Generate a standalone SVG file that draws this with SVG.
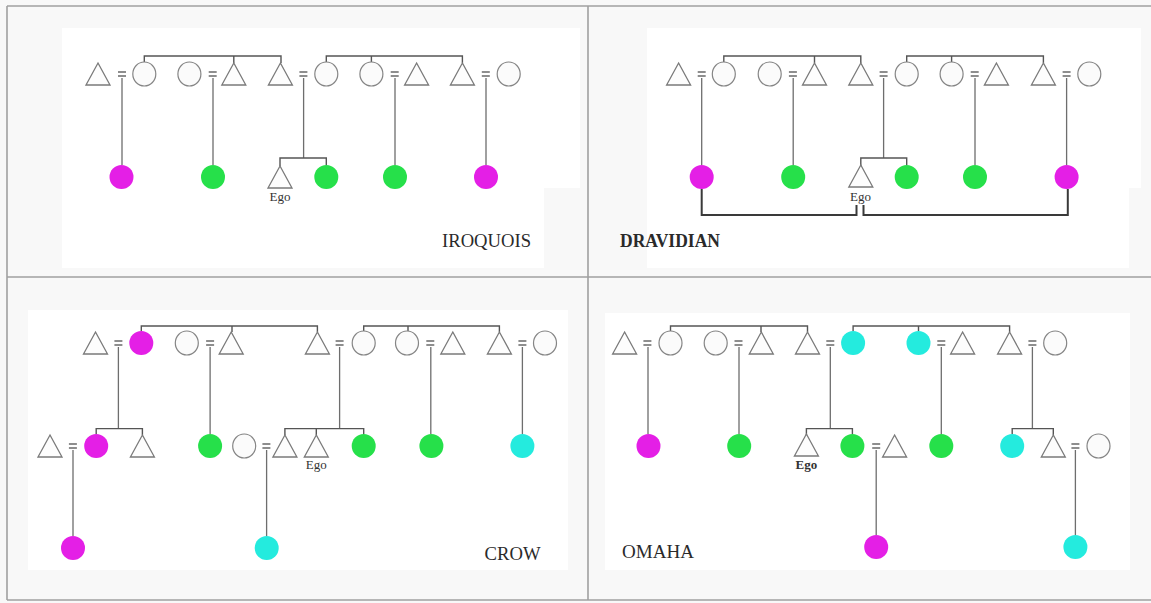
<svg xmlns="http://www.w3.org/2000/svg" xmlns:xlink="http://www.w3.org/1999/xlink" width="1151" height="603" viewBox="0 0 1151 603">
<style>
.tri{fill:#fdfdfd;stroke:#7a7a7a;stroke-width:1.3;stroke-linejoin:miter}
.open{fill:#fbfbfb;stroke:#858585;stroke-width:1.2}
.mag{fill:#e41fe6}
.grn{fill:#26e04a}
.cyn{fill:#24ebde}
.eq{stroke:#6a6a6a;stroke-width:1.3;fill:none}
.ln{stroke:#6e6e6e;stroke-width:1.3;fill:none}
.br{stroke:#555;stroke-width:1.4;fill:none}
.drv{stroke:#3a3a3a;stroke-width:2;fill:none}
.frame{stroke:#a0a0a0;stroke-width:1.6;fill:none}
.ego{font-family:"Liberation Serif","Times New Roman",serif;font-size:13px;fill:#333;text-anchor:middle}
.lbl{font-family:"Liberation Serif","Times New Roman",serif;font-size:18.5px;fill:#2a2a2a}
</style>
<defs>
<path id="tri" class="tri" d="M0,-11 L12,11 L-12,11 Z"/>
<ellipse id="oc" class="open" rx="11.5" ry="12"/>
<ellipse id="mc" class="mag" rx="12" ry="12"/>
<ellipse id="gc" class="grn" rx="12" ry="12"/>
<ellipse id="cc" class="cyn" rx="12" ry="12"/>
<path id="eq" class="eq" d="M-4,-2 H4 M-4,2 H4"/>
</defs>

<g id="background">
<rect x="0" y="0" width="1151" height="603" fill="#f8f8f8"/>
<rect x="62" y="28" width="518" height="160" fill="#fff"/>
<rect x="62" y="188" width="482" height="80" fill="#fff"/>
<rect x="647" y="28" width="494" height="160" fill="#fff"/>
<rect x="647" y="188" width="482" height="80" fill="#fff"/>
<rect x="28" y="310" width="540" height="260" fill="#fff"/>
<rect x="605" y="313" width="525" height="257" fill="#fff"/>
<path class="frame" d="M7,6 H1151 M7,6 V600 M7,277 H1151 M588,6 V600 M7,600 H1151"/>
</g>

<g id="connectors">
<g id="iroquois-connectors">
<use href="#eq" x="122" y="74"/><use href="#eq" x="212.7" y="74"/><use href="#eq" x="303.4" y="74"/><use href="#eq" x="394.7" y="74"/><use href="#eq" x="485.8" y="74"/>
<path class="br" d="M144.3,62 V56 H281 V63 M233.8,56 V63 M326.3,62 V56 H462.4 V63 M371.4,56 V62"/>
<path class="ln" d="M122,78 V165 M213,78 V165 M395,78 V165 M486,78 V165 M303.6,78 V158"/>
<path class="br" d="M280,166 V158 H326.3 V165"/>
</g>
<g id="dravidian-connectors">
<use href="#eq" x="701.7" y="74"/><use href="#eq" x="792.9" y="74"/><use href="#eq" x="883.6" y="74"/><use href="#eq" x="974.7" y="74"/><use href="#eq" x="1066.6" y="74"/>
<path class="br" d="M723.8,62 V56 H860.8 V63 M814.5,56 V63 M906.7,62 V56 H1043.4 V63 M951.6,56 V62"/>
<path class="ln" d="M701.7,78 V165 M793.2,78 V165 M975,78 V165 M1066.6,78 V165 M883.6,78 V158"/>
<path class="br" d="M860.8,166 V158 H906.7 V165"/>
<path class="drv" d="M701.7,189 V215 H856.5 V205 M863.5,205 V215 H1067.8 V189"/>
</g>
<g id="crow-connectors">
<use href="#eq" x="118.4" y="343"/><use href="#eq" x="210.1" y="343"/><use href="#eq" x="339.6" y="343"/><use href="#eq" x="430.3" y="343"/><use href="#eq" x="522.4" y="343"/>
<use href="#eq" x="72.9" y="446"/><use href="#eq" x="266.4" y="446"/>
<path class="br" d="M141.3,331 V326 H317.4 V332 M232,326 V332 M363.7,331 V326 H499.4 V332 M408,326 V331"/>
<path class="ln" d="M118.4,347 V428.6 M210.1,347 V434 M339.6,347 V428.6 M430.8,347 V434 M522.4,347 V434"/>
<path class="br" d="M96.2,434 V428.6 H142.4 V435 M284.9,435 V428.6 H363.7 V434 M316.3,428.6 V435"/>
<path class="ln" d="M73,450 V536 M266.6,450 V536"/>
</g>
<g id="omaha-connectors">
<use href="#eq" x="647.4" y="343"/><use href="#eq" x="738.5" y="343"/><use href="#eq" x="830.3" y="343"/><use href="#eq" x="941.3" y="343"/><use href="#eq" x="1032.4" y="343"/>
<use href="#eq" x="876.2" y="446"/><use href="#eq" x="1075.4" y="446"/>
<path class="br" d="M670.5,331 V326 H807.5 V332 M761,326 V332 M853.1,331 V326 H1009.6 V332 M918.5,326 V331"/>
<path class="ln" d="M648,347 V434 M739,347 V434 M830.3,347 V428.6 M941.3,347 V434 M1032.4,347 V428.6"/>
<path class="br" d="M806.4,435 V428.6 H852.4 V434 M1012.2,434 V428.6 H1053.3 V435"/>
<path class="ln" d="M876.2,450 V535 M1075.4,450 V535"/>
</g>
</g>

<g id="iroquois">
<g id="i-gp1-h"><use href="#tri" x="98" y="74"/></g>
<g id="i-gp1-w"><use href="#oc" x="144.3" y="74"/></g>
<g id="i-gp2-w"><use href="#oc" x="189.4" y="74"/></g>
<g id="i-gp2-h"><use href="#tri" x="233.8" y="74"/></g>
<g id="i-father"><use href="#tri" x="280.4" y="74"/></g>
<g id="i-mother"><use href="#oc" x="326.3" y="74"/></g>
<g id="i-gp4-w"><use href="#oc" x="371.4" y="74"/></g>
<g id="i-gp4-h"><use href="#tri" x="416.6" y="74"/></g>
<g id="i-gp5-h"><use href="#tri" x="462.4" y="74"/></g>
<g id="i-gp5-w"><use href="#oc" x="508.7" y="74"/></g>
<g id="i-c1"><use href="#mc" x="121.5" y="177"/></g>
<g id="i-c2"><use href="#gc" x="213" y="177"/></g>
<g id="i-ego"><use href="#tri" x="280" y="177"/><text class="ego" x="280" y="201">Ego</text></g>
<g id="i-c3"><use href="#gc" x="326.3" y="177"/></g>
<g id="i-c4"><use href="#gc" x="395" y="177"/></g>
<g id="i-c5"><use href="#mc" x="486" y="177"/></g>
<text class="lbl" x="442" y="247" textLength="89" lengthAdjust="spacingAndGlyphs">IROQUOIS</text>
</g>

<g id="dravidian">
<g id="d-gp1-h"><use href="#tri" x="678.6" y="74"/></g>
<g id="d-gp1-w"><use href="#oc" x="723.8" y="74"/></g>
<g id="d-gp2-w"><use href="#oc" x="769.7" y="74"/></g>
<g id="d-gp2-h"><use href="#tri" x="814.5" y="74"/></g>
<g id="d-father"><use href="#tri" x="860.8" y="74"/></g>
<g id="d-mother"><use href="#oc" x="906.7" y="74"/></g>
<g id="d-gp4-w"><use href="#oc" x="951.6" y="74"/></g>
<g id="d-gp4-h"><use href="#tri" x="996.4" y="74"/></g>
<g id="d-gp5-h"><use href="#tri" x="1043.4" y="74"/></g>
<g id="d-gp5-w"><use href="#oc" x="1089.3" y="74"/></g>
<g id="d-c1"><use href="#mc" x="701.7" y="177"/></g>
<g id="d-c2"><use href="#gc" x="793.2" y="177"/></g>
<g id="d-ego"><use href="#tri" x="860.8" y="176"/><text class="ego" x="860.5" y="201">Ego</text></g>
<g id="d-c3"><use href="#gc" x="906.7" y="177"/></g>
<g id="d-c4"><use href="#gc" x="975" y="177"/></g>
<g id="d-c5"><use href="#mc" x="1066.6" y="177"/></g>
<text class="lbl" x="620" y="247" font-weight="bold" textLength="100" lengthAdjust="spacingAndGlyphs">DRAVIDIAN</text>
</g>

<g id="crow">
<g id="c-gp1-h"><use href="#tri" x="95.5" y="343"/></g>
<g id="c-gp1-w"><use href="#mc" x="141.3" y="343"/></g>
<g id="c-gp2-w"><use href="#oc" x="186.8" y="343"/></g>
<g id="c-gp2-h"><use href="#tri" x="231.2" y="343"/></g>
<g id="c-father"><use href="#tri" x="317.4" y="343"/></g>
<g id="c-mother"><use href="#oc" x="363.7" y="343"/></g>
<g id="c-gp4-w"><use href="#oc" x="407" y="343"/></g>
<g id="c-gp4-h"><use href="#tri" x="452.8" y="343"/></g>
<g id="c-gp5-h"><use href="#tri" x="499.4" y="343"/></g>
<g id="c-gp5-w"><use href="#oc" x="545" y="343"/></g>
<g id="c-r2-h"><use href="#tri" x="50" y="446"/></g>
<g id="c-r2-mag"><use href="#mc" x="96.2" y="446"/></g>
<g id="c-r2-bro"><use href="#tri" x="142.4" y="446"/></g>
<g id="c-r2-grn1"><use href="#gc" x="210.1" y="446"/></g>
<g id="c-r2-wife"><use href="#oc" x="244.2" y="446"/></g>
<g id="c-r2-bro2"><use href="#tri" x="284.9" y="446"/></g>
<g id="c-ego"><use href="#tri" x="316.3" y="446"/><text class="ego" x="316.3" y="469">Ego</text></g>
<g id="c-r2-grn2"><use href="#gc" x="363.7" y="446"/></g>
<g id="c-r2-grn3"><use href="#gc" x="431.4" y="446"/></g>
<g id="c-r2-cyn"><use href="#cc" x="522.4" y="446"/></g>
<g id="c-r3-mag"><use href="#mc" x="73" y="548"/></g>
<g id="c-r3-cyn"><use href="#cc" x="266.7" y="548"/></g>
<text class="lbl" x="484.6" y="560" textLength="56" lengthAdjust="spacingAndGlyphs">CROW</text>
</g>

<g id="omaha">
<g id="o-gp1-h"><use href="#tri" x="624.6" y="343"/></g>
<g id="o-gp1-w"><use href="#oc" x="670.5" y="343"/></g>
<g id="o-gp2-w"><use href="#oc" x="715.7" y="343"/></g>
<g id="o-gp2-h"><use href="#tri" x="761.3" y="343"/></g>
<g id="o-father"><use href="#tri" x="807.5" y="343"/></g>
<g id="o-mother"><use href="#cc" x="853.1" y="343"/></g>
<g id="o-gp4-w"><use href="#cc" x="918.5" y="343"/></g>
<g id="o-gp4-h"><use href="#tri" x="962.6" y="343"/></g>
<g id="o-gp5-h"><use href="#tri" x="1009.6" y="343"/></g>
<g id="o-gp5-w"><use href="#oc" x="1055.2" y="343"/></g>
<g id="o-r2-mag"><use href="#mc" x="648.5" y="446"/></g>
<g id="o-r2-grn1"><use href="#gc" x="739.2" y="446"/></g>
<g id="o-ego"><use href="#tri" x="806.4" y="445"/><text class="ego" x="806.4" y="469" font-weight="bold">Ego</text></g>
<g id="o-r2-grn2"><use href="#gc" x="852.4" y="446"/></g>
<g id="o-r2-hus"><use href="#tri" x="894.6" y="446"/></g>
<g id="o-r2-grn3"><use href="#gc" x="941.3" y="446"/></g>
<g id="o-r2-cyn"><use href="#cc" x="1012.2" y="446"/></g>
<g id="o-r2-bro"><use href="#tri" x="1053.3" y="446"/></g>
<g id="o-r2-wife"><use href="#oc" x="1098.5" y="446"/></g>
<g id="o-r3-mag"><use href="#mc" x="876.2" y="547"/></g>
<g id="o-r3-cyn"><use href="#cc" x="1075.4" y="547"/></g>
<text class="lbl" x="622" y="558" fill="#222" textLength="72" lengthAdjust="spacingAndGlyphs">OMAHA</text>
</g>
</svg>
